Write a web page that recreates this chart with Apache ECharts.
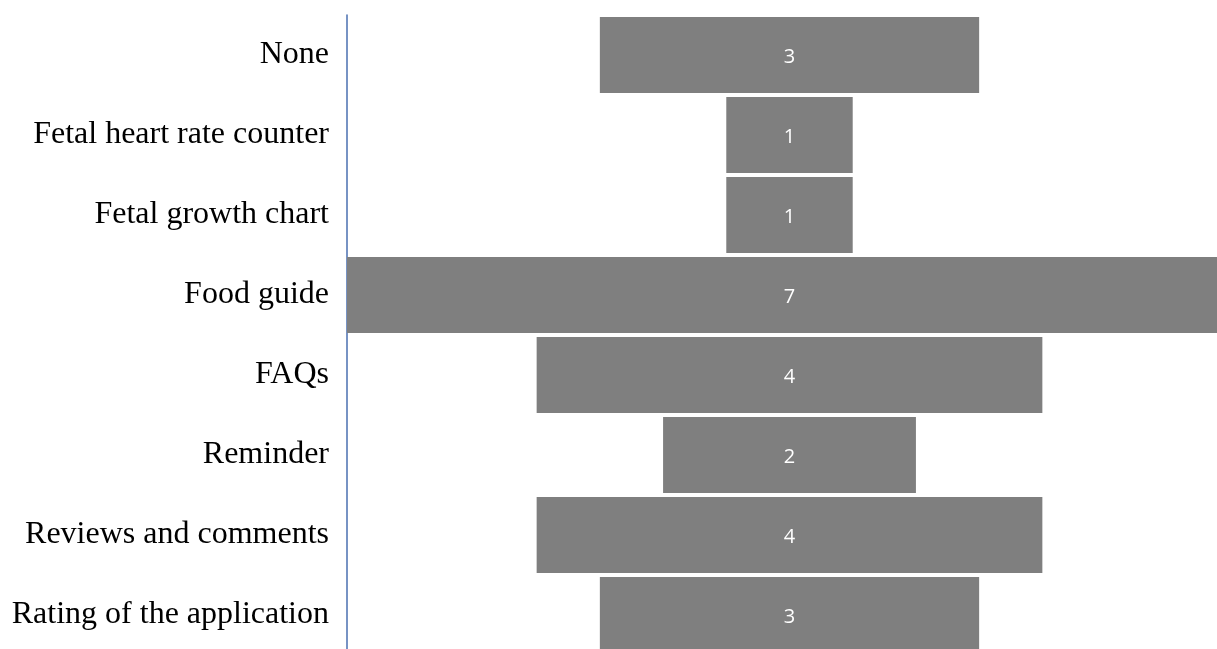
<!DOCTYPE html>
<html>
<head>
<meta charset="utf-8">
<style>
  html, body { margin: 0; padding: 0; background: #ffffff; }
  #chart { width: 1217px; height: 649px; }
</style>
<script src="https://cdn.jsdelivr.net/npm/echarts@6/dist/echarts.min.js"></script>
</head>
<body>
<div id="chart"></div>
<script>
// Features and number of responses
const categories = [
  'None',
  'Fetal heart rate counter',
  'Fetal growth chart',
  'Food guide',
  'FAQs',
  'Reminder',
  'Reviews and comments',
  'Rating of the application'
];
const counts = [3, 1, 1, 7, 4, 2, 4, 3];

// Bars are centred: an invisible offset bar pushes each visible bar to the middle
const maxCount = Math.max(...counts);
const offsets = counts.map(v => (maxCount - v) / 2);

const chart = echarts.init(document.getElementById('chart'), null, { renderer: 'canvas' });
chart.setOption({
  animation: false,
  // the plot runs slightly past the right edge of the page
  grid: { left: 347, top: 15, width: 885, height: 640, outerBoundsMode: 'none', containLabel: false },
  xAxis: {
    type: 'value', min: 0, max: maxCount,
    show: false
  },
  yAxis: {
    type: 'category',
    data: categories,
    inverse: true,
    axisLine: { show: true, lineStyle: { color: '#4a6fb0', width: 1.5 } },
    axisTick: { show: false },
    axisLabel: {
      margin: 18,
      padding: [6, 0, 0, 0],
      color: '#000000',
      fontFamily: 'Liberation Serif, Times New Roman, serif',
      fontSize: 32
    }
  },
  series: [
    {
      type: 'bar', stack: 'f', data: offsets,
      itemStyle: { color: 'transparent' },
      barCategoryGap: '5%',
      silent: true
    },
    {
      type: 'bar', stack: 'f', data: counts,
      itemStyle: { color: '#7f7f7f' },
      barCategoryGap: '5%',
      label: {
        show: true, position: 'inside', offset: [0, 2],
        color: '#ffffff', fontSize: 20,
        fontFamily: 'Open Sans, sans-serif'
      }
    }
  ]
});
</script>
</body>
</html>
